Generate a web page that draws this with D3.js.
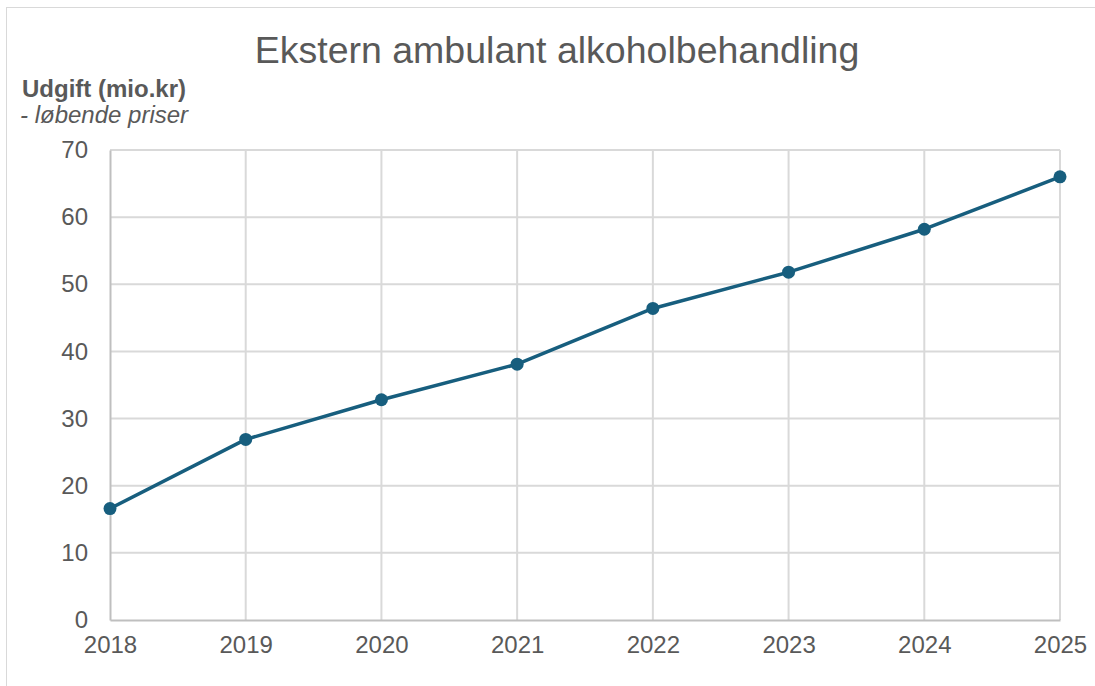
<!DOCTYPE html>
<html><head><meta charset="utf-8">
<script src="https://cdn.jsdelivr.net/npm/d3@7"></script>
<style>body{margin:0;background:#fff;font-family:Arial,"Liberation Sans",sans-serif}</style>
</head><body><svg id="c" width="1095" height="686"></svg>
<script>
const years = [2018, 2019, 2020, 2021, 2022, 2023, 2024, 2025];
const values = [16.6, 26.9, 32.8, 38.1, 46.4, 51.8, 58.2, 66.0];
const yTicks = [0, 10, 20, 30, 40, 50, 60, 70];
const title = "Ekstern ambulant alkoholbehandling";
const yTitle = "Udgift (mio.kr)";
const ySub = "- løbende priser";

const svg = d3.select("#c");
const m = {l:110, r:1060, t:150, b:620};
svg.append("rect").attr("x",6.5).attr("y",7.5).attr("width",1100).attr("height",700)
  .attr("fill","none").attr("stroke","#d9d9d9").attr("stroke-width",1);

const x = d3.scalePoint().domain(years).range([m.l, m.r]);
const y = d3.scaleLinear().domain([0,70]).range([m.b, m.t]);

svg.append("g").selectAll("line").data(yTicks.filter(d=>d>0)).join("line")
  .attr("x1",m.l).attr("x2",m.r).attr("y1",d=>y(d)).attr("y2",d=>y(d))
  .attr("stroke","#d9d9d9").attr("stroke-width",2);
svg.append("g").selectAll("line").data(years.slice(1)).join("line")
  .attr("x1",d=>x(d)).attr("x2",d=>x(d)).attr("y1",m.t).attr("y2",m.b)
  .attr("stroke","#d9d9d9").attr("stroke-width",2);

const yAxis = svg.append("g").attr("transform",`translate(${m.l},0)`)
  .call(d3.axisLeft(y).tickValues(yTicks).tickSize(0).tickPadding(22));
yAxis.select(".domain").attr("stroke","#bfbfbf").attr("stroke-width",2);
yAxis.selectAll("text").attr("font-size",24).attr("fill","#595959").attr("font-family","Arial,'Liberation Sans',sans-serif");

const xAxis = svg.append("g").attr("transform",`translate(0,${m.b})`)
  .call(d3.axisBottom(x).tickSize(0).tickPadding(16).tickFormat(d3.format("d")));
xAxis.select(".domain").attr("stroke","#bfbfbf").attr("stroke-width",2);
xAxis.selectAll("text").attr("font-size",24).attr("fill","#595959").attr("font-family","Arial,'Liberation Sans',sans-serif");

const data = years.map((d,i)=>({yr:d, v:values[i]}));
svg.append("path").datum(data)
  .attr("d", d3.line().x(d=>x(d.yr)).y(d=>y(d.v)))
  .attr("fill","none").attr("stroke","#175e7e").attr("stroke-width",3.5).attr("stroke-linejoin","round");
svg.append("g").selectAll("circle").data(data).join("circle")
  .attr("cx",d=>x(d.yr)).attr("cy",d=>y(d.v)).attr("r",6.5).attr("fill","#175e7e");

svg.append("text").attr("x",557).attr("y",63).attr("text-anchor","middle")
  .attr("font-size",37.5).attr("fill","#595959").text(title);
svg.append("text").attr("x",22).attr("y",97).attr("font-size",24).attr("font-weight","bold")
  .attr("fill","#595959").text(yTitle);
svg.append("text").attr("x",20).attr("y",123).attr("font-size",24).attr("font-style","italic")
  .attr("fill","#595959").text(ySub);
</script></body></html>
